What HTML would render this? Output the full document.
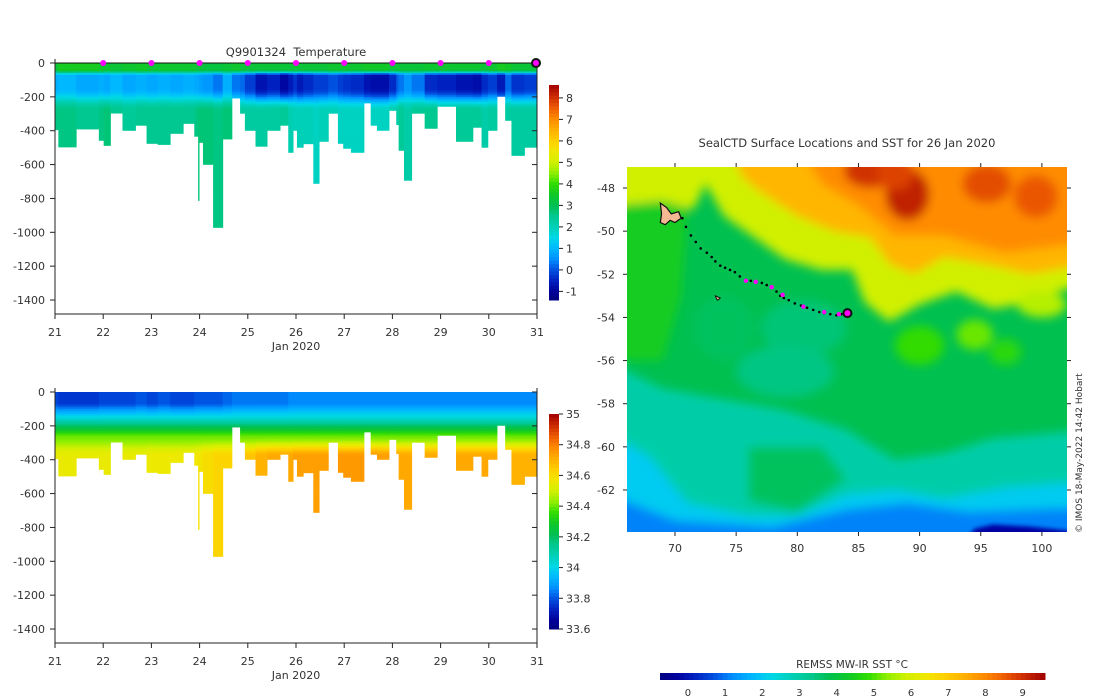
<!DOCTYPE html>
<html><head><meta charset="utf-8">
<style>
html,body{margin:0;padding:0;background:#fff;}
svg{display:block;font-family:"DejaVu Sans","Liberation Sans",sans-serif;}
text{fill:#333;font-size:11px;}
</style></head>
<body>
<svg id="root" width="1100" height="700" viewBox="0 0 1100 700">
<defs>
<clipPath id="mapclip"><rect x="627" y="167" width="440" height="365"/></clipPath>
<filter id="blur" x="-20%" y="-20%" width="140%" height="140%"><feGaussianBlur stdDeviation="5"/></filter>
<filter id="blur2" x="-20%" y="-20%" width="140%" height="140%"><feGaussianBlur stdDeviation="2"/></filter>
</defs>
<g id="tempPanel"></g>
<g id="salPanel"></g>
<g id="mapPanel"></g>
<text x="1082" y="533" transform="rotate(-90 1082 533)" style="font-size:9px">© IMOS 18-May-2022 14:42 Hobart</text>
</svg>
<script>
// ---------- section data ----------
const colStart=[21.00,21.07,21.44,21.91,22.01,22.15,22.40,22.67,22.90,23.13,23.39,23.66,23.89,23.97,23.99,24.07,24.28,24.48,24.67,24.84,24.94,25.16,25.40,25.67,25.84,25.94,26.02,26.15,26.36,26.48,26.67,26.87,26.98,27.14,27.41,27.55,27.68,27.93,28.08,28.13,28.24,28.40,28.67,28.93,29.32,29.67,29.85,29.98,30.17,30.34,30.47,30.74];
const colEnd=31.0;
const maxDepth=[394,496,390,457,487,296,398,368,475,481,416,357,433,812,469,599,971,449,207,297,398,492,398,368,528,398,498,477,711,463,297,475,504,528,236,368,398,280,364,516,693,297,386,256,463,380,498,398,197,339,546,498];
const tSurf=[3.3,3.6,3.6,3.5,3.4,3.3,3.4,3.5,3.4,3.4,3.4,3.4,3.3,3.3,3.3,3.2,3.2,3.3,3.4,3.3,3.3,3.3,3.3,3.3,3.3,3.3,3.3,3.3,3.3,3.3,3.4,3.4,3.4,3.4,3.5,3.5,3.5,3.3,3.3,3.3,3.3,3.3,3.4,3.4,3.4,3.4,3.3,3.4,3.6,3.5,3.3,3.3];
const tMin=[0.9,1.0,0.8,0.9,0.8,1.0,0.8,0.9,0.8,0.9,0.8,0.9,0.8,0.8,0.7,0.6,0.3,0.9,0.3,0.2,-0.2,-0.7,-0.5,-0.9,-0.6,-0.3,-0.6,-0.4,-0.2,-0.2,0.0,-0.2,-0.3,-0.4,-0.7,-0.8,-0.8,-0.4,0.1,0.3,0.6,0.3,-0.4,-0.5,-0.7,-0.8,-0.4,-0.2,-0.6,0.2,-0.3,-0.2];
const tDeep=[2.6,2.6,2.5,2.6,2.7,2.5,2.4,2.5,2.5,2.5,2.5,2.5,2.6,2.7,2.7,2.7,2.6,2.7,2.5,2.3,2.3,2.3,2.3,2.4,2.1,2.0,2.0,2.0,1.9,2.0,2.0,1.9,1.9,1.9,1.9,1.9,1.9,2.1,2.2,2.4,2.2,2.4,2.5,2.3,2.4,2.4,2.2,2.3,2.4,2.3,2.3,2.3];
const sSurf=[33.78,33.76,33.76,33.78,33.78,33.78,33.78,33.80,33.78,33.80,33.78,33.78,33.80,33.80,33.80,33.80,33.80,33.82,33.84,33.84,33.84,33.84,33.84,33.84,33.86,33.86,33.86,33.86,33.86,33.86,33.86,33.86,33.86,33.86,33.86,33.86,33.86,33.86,33.86,33.86,33.86,33.86,33.86,33.86,33.86,33.86,33.86,33.86,33.86,33.86,33.86,33.86];
const sDeep=[34.55,34.55,34.55,34.55,34.55,34.55,34.55,34.55,34.56,34.56,34.56,34.56,34.57,34.58,34.58,34.60,34.62,34.62,34.62,34.64,34.66,34.70,34.72,34.72,34.72,34.74,34.74,34.74,34.74,34.74,34.74,34.75,34.75,34.75,34.75,34.75,34.74,34.74,34.72,34.72,34.72,34.72,34.72,34.72,34.72,34.72,34.72,34.72,34.70,34.70,34.70,34.70];
const surfDays=[22,23,24,25,26,27,28,29,30];
const dayTicks=[21,22,23,24,25,26,27,28,29,30,31];
const depthTicks=[0,-200,-400,-600,-800,-1000,-1200,-1400];
const tempTicks=[8,7,6,5,4,3,2,1,0,-1];
const salTicks=[35,34.8,34.6,34.4,34.2,34,33.8,33.6];
// ---------- map data ----------
const lonTicks=[70,75,80,85,90,95,100];
const latTicks=[-48,-50,-52,-54,-56,-58,-60,-62];
const sstTicks=[0,1,2,3,4,5,6,7,8,9];
const trackLon=[70.6,70.9,71.3,71.7,72.1,72.6,73.0,73.3,73.7,74.1,74.5,74.9,75.3,75.8,76.2,76.6,77.1,77.5,77.9,78.3,78.6,78.9,79.3,79.8,80.3,80.8,81.3,81.8,82.2,82.7,83.2,83.6,84.1];
const trackLat=[-49.4,-49.8,-50.2,-50.5,-50.8,-51.0,-51.2,-51.4,-51.6,-51.7,-51.8,-51.9,-52.1,-52.3,-52.3,-52.35,-52.4,-52.5,-52.6,-52.8,-53.0,-53.1,-53.2,-53.35,-53.45,-53.55,-53.65,-53.75,-53.8,-53.85,-53.9,-53.85,-53.8];
const magentaLon=[75.8,76.6,77.9,78.8,80.5,82.2,83.4];
const magentaLat=[-52.3,-52.35,-52.6,-52.95,-53.5,-53.75,-53.85];

const cmStops=[[-1.4,"#000080"],[-1,"#00009a"],[-0.5,"#0020c0"],[0,"#0050e0"],[0.5,"#0090ff"],[1,"#00b8ff"],[1.5,"#00d8e8"],[2,"#00d0b8"],[2.5,"#00c890"],[3,"#00c050"],[3.5,"#10c828"],[4,"#30dc00"],[4.5,"#90ee00"],[5,"#d0f000"],[5.5,"#f0e800"],[6,"#ffd000"],[6.5,"#ffb000"],[7,"#ff8c00"],[7.5,"#f06000"],[8,"#d03000"],[8.6,"#a00000"]];
function hx(c){return [parseInt(c.slice(1,3),16),parseInt(c.slice(3,5),16),parseInt(c.slice(5,7),16)];}
function cmap(v){
  if(v<=cmStops[0][0])return cmStops[0][1];
  for(let i=1;i<cmStops.length;i++){
    if(v<=cmStops[i][0]){const a=cmStops[i-1],b=cmStops[i];const f=(v-a[0])/(b[0]-a[0]);
      const ca=hx(a[1]),cb=hx(b[1]);return "rgb("+ca.map((x,k)=>Math.round(x+(cb[k]-x)*f)).join(",")+")";}
  }
  return cmStops[cmStops.length-1][1];
}
const NS="http://www.w3.org/2000/svg";
function mk(tag,attrs,parent){const e=document.createElementNS(NS,tag);for(const k in attrs)e.setAttribute(k,attrs[k]);parent.appendChild(e);return e;}
function txt(s,x,y,anchor,parent,size){const t=mk("text",{x:x,y:y,"text-anchor":anchor||"start"},parent);if(size)t.style.fontSize=size+"px";t.textContent=s;return t;}
function lerp(a,b,f){return a+(b-a)*Math.max(0,Math.min(1,f));}
function sm(f){f=Math.max(0,Math.min(1,f));return f*f*(3-2*f);}
function tProf(i,d){ if(d<40)return tSurf[i]; if(d<75)return lerp(tSurf[i],tMin[i],sm((d-40)/35)); if(d<150)return tMin[i]; return lerp(tMin[i],tDeep[i],sm((d-150)/130)); }
function sProf(i,d){ if(d<70)return sSurf[i]; if(d<160) return lerp(sSurf[i],34.05,(d-70)/90); if(d<260) return lerp(34.05,34.4,(d-160)/100); return lerp(34.4,sDeep[i],sm((d-260)/120)); }

function section(panel,y0,kind){
  const g=document.getElementById(panel);
  const X=d=>55+(d-21)*48.2, Y=z=>y0-z*0.1693;
  const cells=mk("g",{},g);
  
  
  for(let i=0;i<colStart.length;i++){
    const x1=X(colStart[i]), x2=X(i+1<colStart.length?colStart[i+1]:colEnd);
    const col=mk("g",{},cells);
    
    
    const step=10;
    for(let d=0;d<maxDepth[i];d+=step){
      const dd=Math.min(step,maxDepth[i]-d);
      const v= kind==="temperature"? tProf(i,d+dd/2) : (-1.4+(sProf(i,d+dd/2)-33.6)*(10/1.4));
      mk("rect",{x:x1.toFixed(2),y:(y0+d*0.1693).toFixed(2),width:Math.max(0.8,x2-x1+0.4).toFixed(2),height:(dd*0.1693+0.4).toFixed(2),fill:cmap(v)},col);
    }
  }
  const fr=mk("path",{d:`M55 ${y0-4} V${y0+251} H537 V${y0-4}`,fill:"none",stroke:"#222","stroke-width":1},g);
  
  const ya=mk("g",{},g);
  depthTicks.forEach(v=>{const y=y0+(-v)*0.1693;
    mk("line",{x1:50,x2:55,y1:y,y2:y,stroke:"#222"},ya);
    mk("line",{x1:537,x2:532,y1:y,y2:y,stroke:"#222"},ya);
    txt(String(v),45,y+4,"end",ya);});
  const xa=mk("g",{},g);
  dayTicks.forEach(d=>{const x=X(d);mk("line",{x1:x,x2:x,y1:y0+251,y2:y0+256,stroke:"#222"},xa);txt(String(d),x,y0+273,"middle",xa);});
  const xl=txt("Jan 2020",X(26),y0+287,"middle",xa);
  const cb=mk("g",{},g);
  const top=y0+22, bot=y0+237, n=60;
  for(let k=0;k<n;k++){const v=8.6-(k+0.5)*10/n;mk("rect",{x:549,y:top+k*(bot-top)/n,width:10,height:(bot-top)/n+0.5,fill:cmap(v)},cb);}
  if(kind==="temperature"){
    tempTicks.forEach(t=>{const y=top+(8.6-t)*(bot-top)/10;mk("line",{x1:559,x2:563,y1:y,y2:y,stroke:"#222"},cb);txt(String(t),566,y+4,"start",cb);});
  } else {
    salTicks.forEach(s=>{const t=-1.4+(s-33.6)*(10/1.4);const y=top+(8.6-t)*(bot-top)/10;mk("line",{x1:559,x2:563,y1:y,y2:y,stroke:"#222"},cb);txt(s===34?"34":(s===35?"35":s.toFixed(1)),566,y+4,"start",cb);});
  }
  if(kind==="temperature"){
    mk("line",{x1:X(21),x2:X(31),y1:y0,y2:y0,stroke:"#111","stroke-width":1},g);
    const mg=mk("g",{},g);
    surfDays.forEach(d=>{const c=mk("circle",{cx:X(d),cy:y0,r:3,fill:"#ff00ff"},mg);});
    const last=mk("circle",{cx:X(31)-1,cy:y0,r:4,fill:"#ff00ff",stroke:"#111","stroke-width":2},mg);
    
    const tt=txt("Q9901324  Temperature",296,y0-7,"middle",g);tt.style.fontSize="11.5px";tt.setAttribute("xml:space","preserve");tt.style.whiteSpace="pre";
    
  }
}
section("tempPanel",63,"temperature");
section("salPanel",392,"salinity");

(function(){
  const g=document.getElementById("mapPanel");
  const PX=l=>675+(l-70)*12.23, PY=a=>188+(-48-a)*21.57;
  const field=mk("g",{"clip-path":"url(#mapclip)"},g);
  
  mk("rect",{x:627,y:167,width:440,height:365,fill:cmap(3.0)},field);
  const bl=mk("g",{filter:"url(#blur)"},field);
  function poly(pts,sst,grp){return mk("polygon",{points:pts.map(q=>PX(q[0]).toFixed(1)+","+PY(q[1]).toFixed(1)).join(" "),fill:cmap(sst)},grp||bl);}
  function ell(lo,la,rx,ry,sst,grp){mk("ellipse",{cx:PX(lo),cy:PY(la),rx:rx*12.23,ry:ry*21.57,fill:cmap(sst)},grp||bl);}
  poly([[65,-46],[72,-46],[71,-49],[70.5,-53],[69,-56],[65,-56]],3.6);
  poly([[65,-46],[104,-46],[104,-52.3],[99,-53.3],[96,-53.6],[93,-52.8],[90,-53.4],[87.5,-54.2],[85.5,-53.3],[84.5,-51.8],[82,-51.8],[79,-51.3],[76.5,-50.3],[74,-49.3],[72.5,-47.8],[71.5,-49],[69,-48.6],[65,-48.8]],5.0);
  poly([[74.5,-46],[104,-46],[104,-51.5],[99,-52],[96,-51.6],[92,-51.2],[89.5,-52],[87.5,-51.5],[86,-50.3],[83,-50],[80,-49.3],[77,-48.2],[75.5,-47.5]],6.4);
  poly([[80,-46],[104,-46],[104,-50.5],[97,-51],[92,-50.2],[88,-50.2],[85,-48.8],[82,-47.8]],7.0);
  ell(86,-47.2,2.2,0.8,8.0);ell(89,-48.3,1.8,1.2,8.2);ell(88,-47.3,1.5,0.8,7.8);ell(95.5,-47.8,2,0.9,7.7);ell(99.5,-48.4,1.8,1,7.6);
  ell(90,-55.3,2,0.9,4.0);ell(94.5,-54.8,1.5,0.7,4.3);ell(97,-55.6,1.3,0.6,3.9);ell(100,-53.4,2,0.6,4.8);
  ell(80.5,-54.5,3.5,1.3,2.7);ell(79,-56.5,4,1.2,2.6);ell(74,-54.5,2.5,1.5,2.9);
  poly([[65,-56.2],[69,-57.3],[74,-57.8],[79,-58.3],[84,-59.2],[88,-60.6],[92,-60.3],[96,-59.6],[104,-59.2],[104,-66],[65,-66]],2.2);
  poly([[76,-60],[82,-60],[84,-61.5],[80,-63],[76,-62.5]],2.9);
  poly([[65,-59.5],[68,-60.5],[71,-62.6],[76,-63.2],[80,-63.2],[84,-62.2],[88,-62.0],[92,-62.4],[97,-61.9],[104,-61.6],[104,-66],[65,-66]],1.3);
  poly([[65,-62.3],[70,-63.4],[78,-63.7],[84,-62.9],[89,-62.6],[94,-63.0],[104,-62.8],[104,-66],[65,-66]],0.4);
  const bl2=mk("g",{filter:"url(#blur2)"},field);
  poly([[93.5,-64.5],[94.5,-63.8],[96,-63.6],[99,-63.7],[102.5,-63.9],[102.5,-64.5]],-0.9,bl2);
  const isl=mk("g",{},g);
  mk("polygon",{points:[[68.8,-48.7],[69.3,-48.9],[69.7,-49.2],[70.3,-49.1],[70.5,-49.4],[70.0,-49.6],[69.6,-49.5],[69.2,-49.7],[68.8,-49.6],[68.9,-49.2]].map(q=>PX(q[0])+","+PY(q[1])).join(" "),fill:"#f4b893",stroke:"#111","stroke-width":1.2},isl);
  mk("polygon",{points:[[73.3,-53.0],[73.7,-53.1],[73.5,-53.2],[73.4,-53.15]].map(q=>PX(q[0])+","+PY(q[1])).join(" "),fill:"#f4b893",stroke:"#111","stroke-width":1},isl);
  const tr=mk("g",{},g);
  trackLon.forEach((lo,i)=>{const c=mk("circle",{cx:PX(lo),cy:PY(trackLat[i]),r:1.3,fill:"#000"},tr);});
  magentaLon.forEach((lo,i)=>{const c=mk("circle",{cx:PX(lo),cy:PY(magentaLat[i]),r:2.2,fill:"#ff00ff"},tr);});
  const lc=mk("circle",{cx:PX(trackLon[trackLon.length-1]),cy:PY(trackLat[trackLat.length-1]),r:4,fill:"#ff00ff",stroke:"#111","stroke-width":2},tr);
  
  const ax=mk("g",{},g);
  lonTicks.forEach(l=>{const x=PX(l);mk("line",{x1:x,x2:x,y1:532,y2:536,stroke:"#222"},ax);mk("line",{x1:x,x2:x,y1:163,y2:167,stroke:"#222"},ax);txt(String(l),x,552,"middle",ax);});
  latTicks.forEach(a=>{const y=PY(a);mk("line",{x1:623,x2:627,y1:y,y2:y,stroke:"#222"},ax);mk("line",{x1:1067,x2:1071,y1:y,y2:y,stroke:"#222"},ax);txt(String(a),615,y+4,"end",ax);});
  const mt=txt("SealCTD Surface Locations and SST for 26 Jan 2020",847,147,"middle",g,11.5);
  
  const cb=mk("g",{},g);
  const L=660,R=1045,n=80,vmin=-0.75,vmax=9.6;
  for(let k=0;k<n;k++){const v=vmin+(k+0.5)*(vmax-vmin)/n;const t=-1.4+(v-vmin)/(vmax-vmin)*10;mk("rect",{x:L+k*(R-L)/n,y:673,width:(R-L)/n+0.5,height:7,fill:cmap(t)},cb);}
  sstTicks.forEach(s=>{const x=L+(s-vmin)/(vmax-vmin)*(R-L);txt(String(s),x,696,"middle",cb,10);});
  const ct=txt("REMSS MW-IR SST °C",852,668,"middle",cb,10.5);
  
})();
</script>
</body></html>
